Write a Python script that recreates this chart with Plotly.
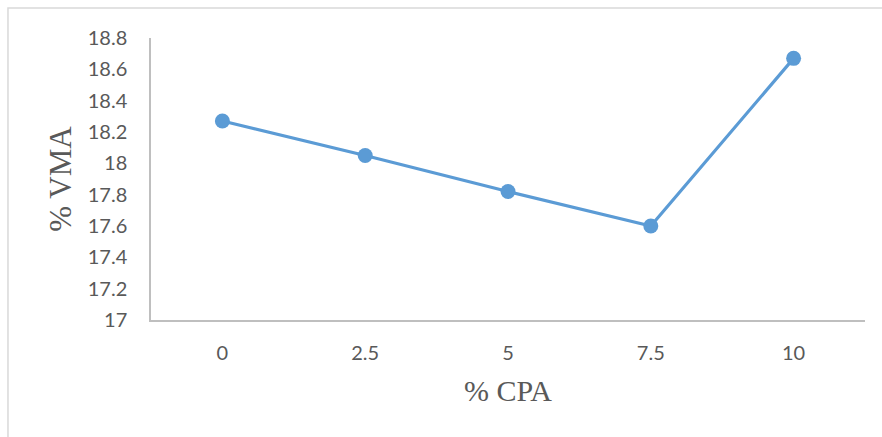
import plotly.graph_objects as go

# % CPA content and the resulting voids in mineral aggregate
cpa_levels = ["0", "2.5", "5", "7.5", "10"]
vma_values = [18.27, 18.05, 17.82, 17.60, 18.67]

y_tick_vals = [17.0, 17.2, 17.4, 17.6, 17.8, 18.0, 18.2, 18.4, 18.6, 18.8]
y_tick_text = ["17", "17.2", "17.4", "17.6", "17.8", "18", "18.2", "18.4", "18.6", "18.8"]

line_color = "#5B9BD5"
axis_color = "#BFBFBF"
label_color = "#595959"

fig = go.Figure(
    go.Scatter(
        x=cpa_levels,
        y=vma_values,
        mode="lines+markers",
        line=dict(color=line_color, width=3.2),
        marker=dict(color=line_color, size=15),
        showlegend=False,
    )
)

fig.update_layout(
    width=882,
    height=437,
    margin=dict(l=151, r=17, t=38, b=117),
    paper_bgcolor="white",
    plot_bgcolor="white",
    font=dict(family="Lato", color=label_color, size=20),
    shapes=[
        # outer chart-area frame
        dict(
            type="rect", xref="paper", yref="paper",
            x0=-0.2003, x1=2.0, y0=-1.0, y1=1.1064,
            line=dict(color="#D9D9D9", width=1.5),
            fillcolor="rgba(0,0,0,0)", layer="below",
        )
    ],
)

fig.update_xaxes(
    type="category",
    range=[-0.5, 4.5],
    showline=True, linecolor=axis_color, linewidth=1.5,
    showgrid=False, zeroline=False, ticks="",
    ticklabelstandoff=14,
    tickfont=dict(family="Lato", size=20, color=label_color),
    title=dict(text="% CPA", font=dict(family="Liberation Serif", size=30, color=label_color), standoff=17),
)

fig.update_yaxes(
    range=[17, 18.8],
    tickvals=y_tick_vals, ticktext=y_tick_text,
    showline=True, linecolor=axis_color, linewidth=1.5,
    showgrid=False, zeroline=False, ticks="",
    ticklabelstandoff=18,
    tickfont=dict(family="Lato", size=20, color=label_color),
    title=dict(text="% VMA", font=dict(family="Liberation Serif", size=31, color=label_color), standoff=7),
)

fig.write_html("out.html")
